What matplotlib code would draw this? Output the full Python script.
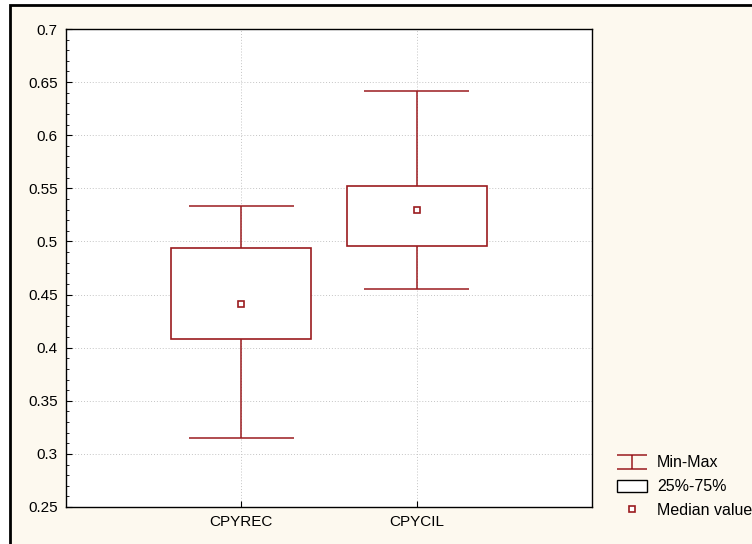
import matplotlib.pyplot as plt
from matplotlib.lines import Line2D
from matplotlib.patches import Patch, Rectangle
from matplotlib.path import Path
from matplotlib.ticker import MultipleLocator, FormatStrFormatter

plt.rcParams['font.family'] = ['Liberation Sans', 'DejaVu Sans']

# box summary per variable
categories = ["CPYREC", "CPYCIL"]
mins = [0.315, 0.455]
q1 = [0.408, 0.496]
medians = [0.441, 0.530]
q3 = [0.494, 0.552]
maxs = [0.533, 0.642]

red = "#9b1b1f"
cream = "#fdf9ef"

fig = plt.figure(figsize=(7.52, 5.44), dpi=100, facecolor="white")
# cream panel with black frame
fig.add_artist(Rectangle((10 / 752, -0.1), 1.2, 1.1 - 5 / 544,
                         transform=fig.transFigure, facecolor=cream,
                         edgecolor="black", lw=2, zorder=-1))
ax = fig.add_axes([66 / 752, 1 - 507 / 544, 526 / 752, 478 / 544])
ax.set_facecolor("white")

x = list(range(1, len(categories) + 1))
box_w = 0.8
cap_w = 0.6

for xi, lo, a, m, b, hi in zip(x, mins, q1, medians, q3, maxs):
    ax.vlines(xi, lo, a, color=red, lw=1.1, zorder=3)
    ax.vlines(xi, b, hi, color=red, lw=1.1, zorder=3)
    ax.hlines([lo, hi], xi - cap_w / 2, xi + cap_w / 2, color=red, lw=1.1, zorder=3)
ax.bar(x, [b - a for a, b in zip(q1, q3)], bottom=q1, width=box_w,
       facecolor="white", edgecolor=red, lw=1.2, zorder=4)
ax.plot(x, medians, ls="none", marker="s", ms=5, mfc="white", mec=red,
        mew=1.2, zorder=5)

ax.set_xlim(0, 3)
ax.set_ylim(0.25, 0.7)
ax.set_xticks(x)
ax.set_xticklabels(categories)
ax.yaxis.set_major_locator(MultipleLocator(0.05))
ax.yaxis.set_minor_locator(MultipleLocator(0.01))
ax.yaxis.set_major_formatter(FormatStrFormatter("%g"))
ax.tick_params(axis="both", which="major", direction="in", length=4,
               labelsize=11, colors="black", pad=6)
ax.tick_params(axis="y", which="minor", direction="in", length=2)
ax.grid(True, which="major", color="#c4c4c4", ls=(0, (1, 2)), lw=0.7)
ax.set_axisbelow(True)
for sp in ax.spines.values():
    sp.set_color("black")
    sp.set_linewidth(1)

# I-beam marker for the min-max legend entry
ibeam = Path([(-1, 0.45), (1, 0.45), (0, 0.45), (0, -0.45), (-1, -0.45), (1, -0.45)],
             [Path.MOVETO, Path.LINETO, Path.MOVETO, Path.LINETO, Path.MOVETO, Path.LINETO])
handles = [
    Line2D([], [], ls="none", marker=ibeam, ms=22, mec=red, mew=1.1),
    Patch(facecolor="white", edgecolor="black", lw=1),
    Line2D([], [], ls="none", marker="s", ms=5, mfc="white", mec=red, mew=1.2),
]
labels = ["Min-Max", "25%-75%", "Median value"]
fig.legend(handles, labels, loc="lower left", bbox_to_anchor=(609 / 752, 18 / 544),
           frameon=False, fontsize=11.5, handlelength=1.9, handleheight=0.8,
           handletextpad=0.6, labelspacing=0.55, borderpad=0)

fig.savefig("out.png", dpi=100, facecolor=fig.get_facecolor())
